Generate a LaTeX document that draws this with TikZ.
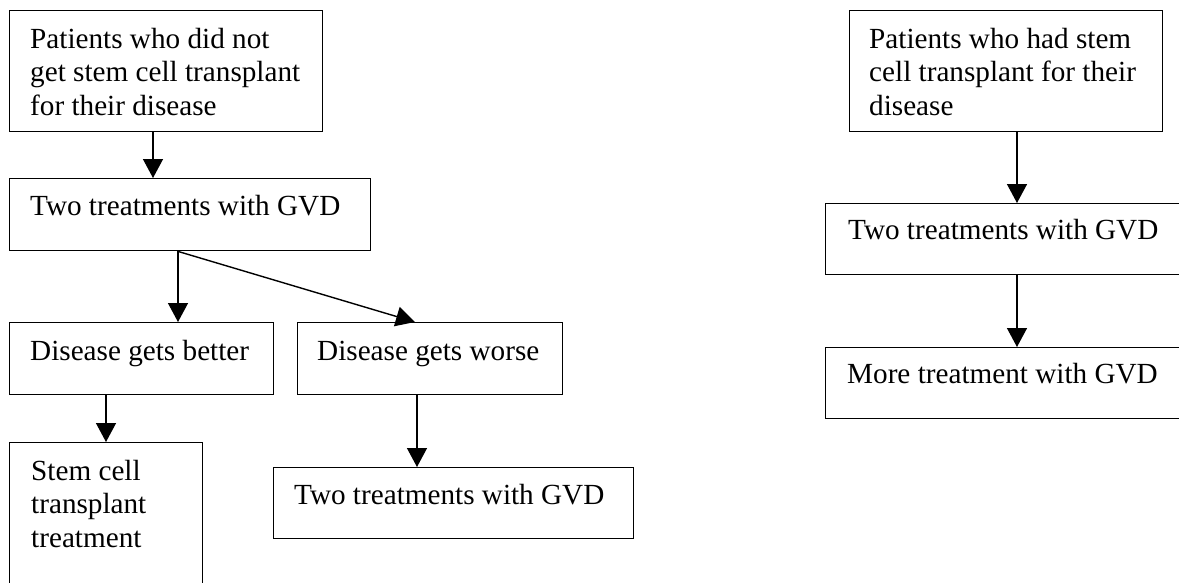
\documentclass[tikz,border=0pt]{standalone}
\usepackage{fontspec}
\setmainfont{Liberation Serif}
\usetikzlibrary{arrows.meta}
\begin{document}
\begin{tikzpicture}[x=1pt,y=-1pt,
  boxnode/.style={draw=black,line width=1.4pt,inner sep=0pt,anchor=north west,fill=none},
  txt/.style={anchor=base west,inner sep=0pt,font=\fontsize{29.2}{33.5}\selectfont},
  arr/.style={line width=1.4pt,-{Triangle[width=20pt,length=19pt]}}]
\useasboundingbox[fill=white] (0,0) rectangle (1179,582);
% boxes
\node[boxnode,minimum width=313pt,minimum height=121pt] (b1) at (9,10) {};
\node[boxnode,minimum width=361pt,minimum height=72pt]  (b2) at (9,178) {};
\node[boxnode,minimum width=264pt,minimum height=72pt]  (b3) at (9,322) {};
\node[boxnode,minimum width=265pt,minimum height=72pt]  (b4) at (297,322) {};
\node[boxnode,minimum width=193pt,minimum height=160pt] (b5) at (9,442) {};
\node[boxnode,minimum width=360pt,minimum height=71pt]  (b6) at (273,467) {};
\node[boxnode,minimum width=313pt,minimum height=121pt] (b7) at (849,10) {};
\node[boxnode,minimum width=365pt,minimum height=71pt]  (b8) at (825,203) {};
\node[boxnode,minimum width=365pt,minimum height=71pt]  (b9) at (825,347) {};
% texts
\node[txt] (t1) at ([shift={(21,38)}]b1.north west) {\vtop{\hbox{Patients who did not}\hbox{get stem cell transplant}\hbox{for their disease}}};
\node[txt] (t2) at ([shift={(21,37)}]b2.north west) {Two treatments with GVD};
\node[txt] (t3) at ([shift={(21,38)}]b3.north west) {Disease gets better};
\node[txt] (t4) at ([shift={(20,38)}]b4.north west) {Disease gets worse};
\node[txt] (t5) at ([shift={(22,38)}]b5.north west) {\vtop{\hbox{Stem cell}\hbox{transplant}\hbox{treatment}}};
\node[txt] (t6) at ([shift={(21,37)}]b6.north west) {Two treatments with GVD};
\node[txt] (t7) at ([shift={(20,38)}]b7.north west) {\vtop{\hbox{Patients who had stem}\hbox{cell transplant for their}\hbox{disease}}};
\node[txt] (t8) at ([shift={(23,36)}]b8.north west) {Two treatments with GVD};
\node[txt] (t9) at ([shift={(22,36)}]b9.north west) {More treatment with GVD};
% connectors
\draw[arr] (b1.south -| 153,0) -- (b2.north -| 153,0);
\draw[arr] (b2.south -| 178,0) -- (b3.north -| 178,0);
\draw[arr] (b2.south -| 178,0) -- (b4.north -| 415,0);
\draw[arr] (b3.south -| 106,0) -- (b5.north -| 106,0);
\draw[arr] (b4.south -| 417,0) -- (b6.north -| 417,0);
\draw[arr] (b7.south -| 1017,0) -- (b8.north -| 1017,0);
\draw[arr] (b8.south -| 1017,0) -- (b9.north -| 1017,0);
\end{tikzpicture}
\end{document}
